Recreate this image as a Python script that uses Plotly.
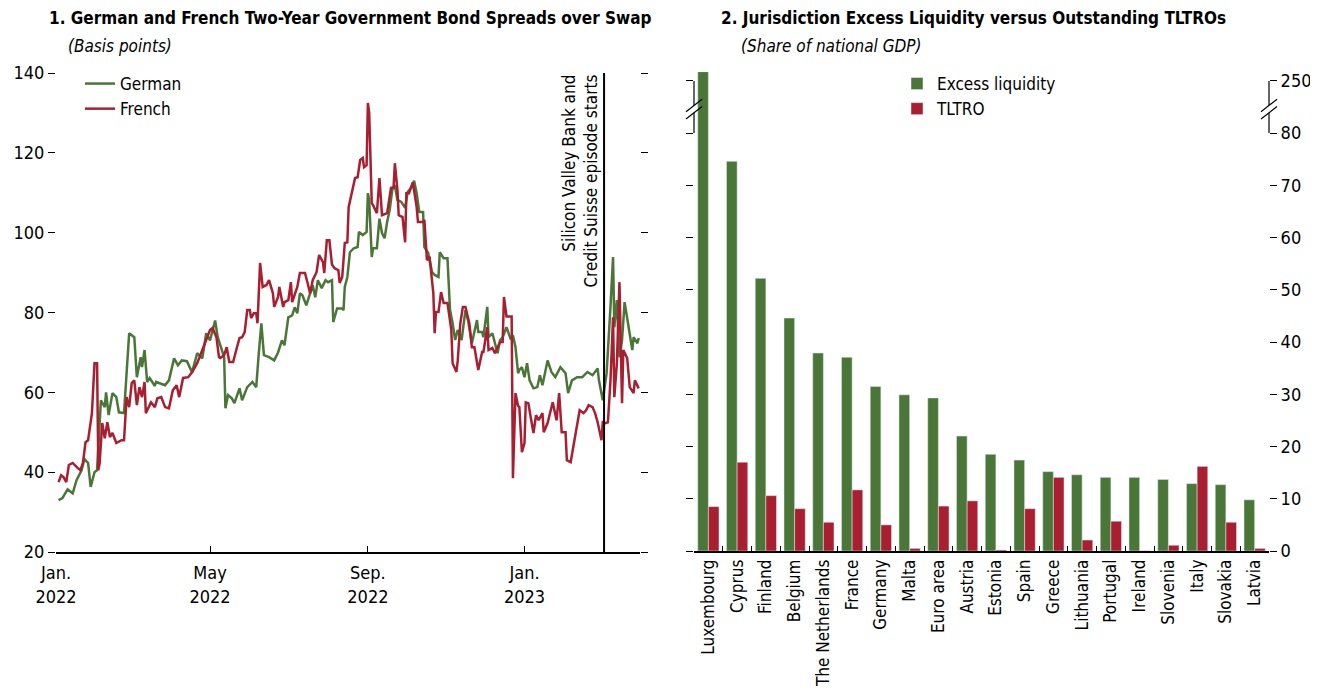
import plotly.graph_objects as go

# ---------------- Panel 1 data ----------------
de_dates = ["2022-01-03","2022-01-06","2022-01-10","2022-01-14","2022-01-17","2022-01-21","2022-01-23","2022-01-26","2022-01-28","2022-01-31",
"2022-02-02","2022-02-05","2022-02-08","2022-02-09","2022-02-11","2022-02-14","2022-02-17","2022-02-19","2022-02-23","2022-02-25","2022-02-27",
"2022-03-03","2022-03-05","2022-03-08","2022-03-09","2022-03-11","2022-03-13","2022-03-15","2022-03-19","2022-03-20","2022-03-27","2022-03-30",
"2022-04-03","2022-04-06","2022-04-09","2022-04-13","2022-04-17","2022-04-21","2022-04-25","2022-04-28",
"2022-05-01","2022-05-05","2022-05-07","2022-05-12","2022-05-13","2022-05-15","2022-05-18","2022-05-20","2022-05-24","2022-05-26","2022-05-30",
"2022-06-03","2022-06-06","2022-06-08","2022-06-10","2022-06-12","2022-06-16","2022-06-20","2022-06-23","2022-06-26","2022-06-28",
"2022-07-01","2022-07-04","2022-07-06","2022-07-08","2022-07-10","2022-07-12","2022-07-15","2022-07-18","2022-07-20","2022-07-22","2022-07-24","2022-07-27","2022-07-30",
"2022-08-01","2022-08-04","2022-08-05","2022-08-08","2022-08-12","2022-08-13","2022-08-14","2022-08-16","2022-08-18","2022-08-21","2022-08-24","2022-08-25","2022-08-28","2022-08-31",
"2022-09-01","2022-09-02","2022-09-04","2022-09-05","2022-09-08","2022-09-10","2022-09-12","2022-09-14","2022-09-16","2022-09-18","2022-09-20","2022-09-22","2022-09-24","2022-09-27","2022-09-30",
"2022-10-02","2022-10-05","2022-10-07","2022-10-09","2022-10-11","2022-10-14","2022-10-15","2022-10-18","2022-10-21","2022-10-23","2022-10-26","2022-10-27","2022-10-30",
"2022-11-02","2022-11-04","2022-11-06","2022-11-08","2022-11-10","2022-11-13","2022-11-16","2022-11-18","2022-11-21","2022-11-25","2022-11-26","2022-11-29","2022-11-30",
"2022-12-03","2022-12-04","2022-12-07","2022-12-11","2022-12-13","2022-12-15","2022-12-18","2022-12-21","2022-12-23","2022-12-25","2022-12-26","2022-12-27","2022-12-28","2022-12-30",
"2023-01-01","2023-01-03","2023-01-05","2023-01-08","2023-01-11","2023-01-13","2023-01-15","2023-01-19","2023-01-22","2023-01-25","2023-01-29",
"2023-02-02","2023-02-04","2023-02-07","2023-02-11","2023-02-15","2023-02-19","2023-02-23","2023-02-27","2023-02-28",
"2023-03-03","2023-03-05","2023-03-06","2023-03-09","2023-03-11","2023-03-12","2023-03-14","2023-03-16","2023-03-18","2023-03-20","2023-03-23","2023-03-26","2023-03-27","2023-03-30","2023-03-31"]
german = [33.0,33.5,35.7,34.7,38.0,40.5,43.3,42.3,36.3,40.0,
40.5,58.0,56.3,60.0,54.3,59.8,58.8,55.0,54.8,66.0,74.8,
73.8,63.8,68.8,66.3,70.6,62.6,63.6,61.6,62.6,61.8,63.0,
68.5,66.8,68.0,67.8,65.0,69.8,68.5,74.8,
73.0,78.0,73.8,68.8,56.0,59.3,58.5,57.3,61.0,58.0,61.3,
62.6,61.3,69.8,77.3,69.3,68.8,68.0,70.0,73.0,71.8,
78.8,79.3,81.3,79.8,84.8,84.3,81.8,84.8,86.8,83.8,88.1,86.1,88.1,
87.6,88.1,77.6,81.0,81.0,80.6,86.4,88.9,95.1,96.1,96.4,100.2,99.4,100.2,
109.9,108.2,93.9,96.1,96.1,103.5,99.9,98.6,102.7,105.7,110.7,111.9,108.2,107.7,106.2,
110.2,111.4,113.0,109.9,105.2,105.2,96.4,94.9,90.1,89.4,88.9,95.1,93.6,
93.6,80.6,77.3,73.1,75.6,73.1,80.6,78.1,72.3,78.1,75.1,75.1,73.8,
81.4,73.8,74.8,69.8,73.1,73.8,76.3,73.6,74.3,71.3,67.3,64.8,65.6,66.3,
63.8,67.3,63.0,61.0,61.3,64.3,61.8,68.0,65.1,63.8,66.3,
64.8,59.8,63.0,63.8,63.8,65.1,64.3,66.0,63.0,
58.0,62.3,64.8,81.4,93.9,76.3,83.1,68.8,73.1,82.6,76.3,70.6,73.8,72.3,73.6]

fr_dates = ["2022-01-03","2022-01-05","2022-01-07","2022-01-09","2022-01-11","2022-01-14","2022-01-18","2022-01-20","2022-01-22","2022-01-24","2022-01-26","2022-01-28","2022-01-29","2022-01-31",
"2022-02-02","2022-02-03","2022-02-04","2022-02-06","2022-02-08","2022-02-10","2022-02-12","2022-02-14","2022-02-17","2022-02-21","2022-02-23","2022-02-25","2022-02-27",
"2022-03-01","2022-03-03","2022-03-05","2022-03-07","2022-03-09","2022-03-11","2022-03-12","2022-03-16","2022-03-19","2022-03-21","2022-03-24","2022-03-27","2022-03-30",
"2022-04-02","2022-04-05","2022-04-07","2022-04-10","2022-04-14","2022-04-17","2022-04-21","2022-04-25","2022-04-28",
"2022-05-01","2022-05-03","2022-05-06","2022-05-08","2022-05-09","2022-05-12","2022-05-14","2022-05-16","2022-05-19","2022-05-22","2022-05-24","2022-05-26","2022-05-28","2022-05-30",
"2022-06-01","2022-06-02","2022-06-04","2022-06-06","2022-06-07","2022-06-09","2022-06-11","2022-06-14","2022-06-16","2022-06-19","2022-06-20","2022-06-23","2022-06-24","2022-06-27","2022-06-28",
"2022-07-01","2022-07-03","2022-07-04","2022-07-08","2022-07-10","2022-07-14","2022-07-16","2022-07-18","2022-07-20","2022-07-23","2022-07-25","2022-07-28","2022-07-29","2022-07-31",
"2022-08-02","2022-08-04","2022-08-06","2022-08-09","2022-08-10","2022-08-12","2022-08-14","2022-08-16","2022-08-17","2022-08-20","2022-08-22","2022-08-24","2022-08-26","2022-08-28","2022-08-29","2022-08-31",
"2022-09-01","2022-09-02","2022-09-04","2022-09-05","2022-09-08","2022-09-10","2022-09-12","2022-09-16","2022-09-19","2022-09-21","2022-09-22","2022-09-24","2022-09-25","2022-09-28","2022-09-30",
"2022-10-01","2022-10-03","2022-10-06","2022-10-09","2022-10-10","2022-10-14","2022-10-15","2022-10-17","2022-10-19","2022-10-22","2022-10-23","2022-10-24","2022-10-26","2022-10-28","2022-10-30",
"2022-11-02","2022-11-05","2022-11-06","2022-11-09","2022-11-10","2022-11-12","2022-11-14","2022-11-16","2022-11-19","2022-11-21","2022-11-23","2022-11-26","2022-11-29","2022-11-30",
"2022-12-03","2022-12-04","2022-12-07","2022-12-09","2022-12-11","2022-12-13","2022-12-15","2022-12-16","2022-12-18","2022-12-22","2022-12-23","2022-12-25","2022-12-27","2022-12-28","2022-12-30",
"2023-01-01","2023-01-02","2023-01-04","2023-01-06","2023-01-08","2023-01-10","2023-01-12","2023-01-15","2023-01-16","2023-01-19","2023-01-21","2023-01-23","2023-01-26","2023-01-28","2023-01-30",
"2023-02-02","2023-02-03","2023-02-06","2023-02-08","2023-02-11","2023-02-13","2023-02-16","2023-02-18","2023-02-20","2023-02-23","2023-02-25","2023-02-27",
"2023-03-02","2023-03-03","2023-03-05","2023-03-07","2023-03-09","2023-03-11","2023-03-12","2023-03-14","2023-03-16","2023-03-18","2023-03-19","2023-03-22","2023-03-24","2023-03-27","2023-03-28","2023-03-31"]
french = [37.5,39.2,38.7,37.5,41.8,42.3,41.0,40.5,42.3,47.5,48.0,53.0,54.8,67.3,
67.3,40.5,42.3,52.3,48.5,52.5,48.8,49.8,47.3,48.0,48.0,58.8,56.3,
62.3,63.0,56.8,61.3,58.8,62.6,54.8,57.5,56.3,58.5,58.8,56.3,56.0,
60.5,61.8,58.8,63.6,63.8,65.0,67.3,70.6,73.1,
75.6,76.1,73.8,68.8,68.6,69.3,71.3,67.6,67.6,71.3,73.6,73.8,75.1,80.6,
80.6,78.6,79.8,79.8,77.3,92.4,86.4,86.9,88.1,84.8,81.4,83.9,86.4,81.4,82.6,
83.1,87.6,82.6,86.4,89.9,89.9,87.4,84.8,88.1,90.1,94.4,92.6,89.9,98.1,
98.1,92.0,91.1,90.6,87.4,88.9,97.4,97.6,106.4,110.7,113.7,113.9,118.2,118.7,116.4,116.9,
132.5,130.0,107.4,106.9,104.9,113.7,104.4,104.9,111.2,111.3,117.4,110.7,104.4,103.9,97.6,
109.9,109.9,112.6,106.4,102.7,102.7,103.2,93.1,94.0,84.8,74.8,80.1,80.1,85.1,82.4,
82.4,75.6,67.3,65.1,68.0,77.3,81.4,81.4,77.3,71.3,71.3,65.6,70.1,70.1,
76.3,70.6,71.1,69.8,71.1,72.6,72.6,83.9,79.0,79.0,38.5,59.8,56.6,56.3,45.0,
47.3,57.5,57.3,53.5,49.8,54.3,53.0,54.8,50.0,52.3,54.8,57.5,53.0,59.8,50.0,
50.0,43.0,42.5,46.3,51.3,55.5,54.8,55.5,56.8,56.3,54.8,52.5,
48.0,52.5,52.3,52.5,63.0,78.8,58.8,67.3,87.6,57.3,70.6,68.6,61.3,59.8,63.0,61.0]

event_date = "2023-03-04"
event_label = "Silicon Valley Bank and<br>Credit Suisse episode starts"
x1_tickvals = ["2022-01-01", "2022-05-01", "2022-09-01", "2023-01-01"]
x1_ticktext = ["Jan.<br>2022", "May<br>2022", "Sep.<br>2022", "Jan.<br>2023"]
y1_ticks = [20, 40, 60, 80, 100, 120, 140]

# ---------------- Panel 2 data ----------------
countries = ["Luxembourg", "Cyprus", "Finland", "Belgium", "The Netherlands", "France", "Germany",
             "Malta", "Euro area", "Austria", "Estonia", "Spain", "Greece", "Lithuania", "Portugal",
             "Ireland", "Slovenia", "Italy", "Slovakia", "Latvia"]
excess_liquidity = [280, 74.6, 52.2, 44.6, 37.9, 37.1, 31.5, 29.9, 29.3, 22.0, 18.5, 17.4, 15.2,
                    14.6, 14.1, 14.1, 13.7, 12.9, 12.7, 9.8]
tltro = [8.5, 17.0, 10.6, 8.1, 5.5, 11.7, 5.0, 0.5, 8.6, 9.6, 0.2, 8.1, 14.1, 2.1, 5.7, 0.05,
         1.1, 16.2, 5.5, 0.5]
y2_tickvals = [0, 10, 20, 30, 40, 50, 60, 70, 80, 90]
y2_ticktext = ["0", "10", "20", "30", "40", "50", "60", "70", "80", "250"]

BREAK_LO, BREAK_HI = 80, 250


def broken(v):
    """Map value onto the broken axis: 80-250 is compressed into 80-90."""
    return v if v <= BREAK_LO else BREAK_LO + (v - BREAK_LO) * 10 / (BREAK_HI - BREAK_LO)


GREEN = "#4A7638"
RED = "#A91E30"
FONT = "Liberation Sans Narrow, Arial Narrow, DejaVu Sans Condensed, sans-serif"
# page body has an 8px margin: figure is sized to fit the window
OFF = 8
W, H = 1318 - OFF, 690 - OFF

fig = go.Figure()
fig.add_trace(go.Scatter(x=de_dates, y=german, mode="lines", name="German",
                         line=dict(color=GREEN, width=2.5), xaxis="x", yaxis="y", legend="legend"))
fig.add_trace(go.Scatter(x=fr_dates, y=french, mode="lines", name="French",
                         line=dict(color=RED, width=2.5), xaxis="x", yaxis="y", legend="legend"))

fig.add_trace(go.Bar(x=countries, y=[broken(v) for v in excess_liquidity], name="Excess liquidity",
                     marker_color=GREEN, customdata=excess_liquidity,
                     hovertemplate="%{x}: %{customdata}<extra></extra>",
                     xaxis="x2", yaxis="y2", legend="legend2"))
fig.add_trace(go.Bar(x=countries, y=tltro, name="TLTRO", marker_color=RED,
                     xaxis="x2", yaxis="y2", legend="legend2"))

px = lambda p: (p - OFF) / W
py = lambda p: 1 - (p - OFF) / H

x1_dom = [px(56), px(640)]
y1_dom = [py(552), py(73)]
x2_dom = [px(694), px(1269)]
y2_dom = [py(551), py(72)]

tickfont = dict(family=FONT, size=18, color="black")

fig.update_layout(
    width=W, height=H, margin=dict(l=0, r=0, t=0, b=0, autoexpand=False),
    paper_bgcolor="white", plot_bgcolor="white",
    font=dict(family=FONT, size=18, color="black"),
    barmode="group", bargap=0.26, bargroupgap=0,
    xaxis=dict(domain=x1_dom, type="date", range=["2022-01-01", "2023-04-01"],
               tickvals=x1_tickvals, ticktext=x1_ticktext, ticks="inside", ticklen=6,
               tickcolor="black", showline=True, linecolor="black", linewidth=1.5,
               showgrid=False, zeroline=False, tickfont=tickfont, anchor="y", automargin=False,
               ticklabelstandoff=4),
    yaxis=dict(domain=y1_dom, range=[20, 140], tickvals=y1_ticks, ticks="outside", ticklen=7,
               tickcolor="black", mirror="ticks", showline=False, showgrid=False,
               zeroline=False, tickfont=tickfont, anchor="x", automargin=False),
    xaxis2=dict(domain=x2_dom, type="category", tickangle=-90, ticks="inside", ticklen=5,
                tickson="boundaries", tickcolor="black", showline=True, linecolor="black",
                linewidth=1.5, showgrid=False, zeroline=False,
                tickfont=dict(family=FONT, size=17, color="black"), anchor="y2", automargin=False),
    yaxis2=dict(domain=y2_dom, range=[0, 91.7], side="right", tickvals=y2_tickvals,
                ticktext=y2_ticktext, ticks="outside", ticklen=7, tickcolor="black",
                mirror="ticks", showline=False, showgrid=False, zeroline=False,
                tickfont=tickfont, anchor="x2", automargin=False),
    legend=dict(x=px(80), y=py(66), xanchor="left", yanchor="top", bgcolor="rgba(0,0,0,0)",
                font=dict(family=FONT, size=17), tracegroupgap=0, itemwidth=30),
    legend2=dict(x=px(897), y=py(66), xanchor="left", yanchor="top", bgcolor="rgba(0,0,0,0)",
                 font=dict(family=FONT, size=17), tracegroupgap=0, itemwidth=30),
)

# event line
fig.add_shape(type="line", xref="x", yref="y domain", x0=event_date, x1=event_date, y0=0, y1=1,
              line=dict(color="black", width=2))
fig.add_annotation(x=event_date, xref="x", y=1, yref="y domain", text=event_label,
                   textangle=-90, xanchor="right", yanchor="top", align="right", showarrow=False,
                   xshift=-2, font=dict(family=FONT, size=17))

# titles
fig.add_annotation(x=px(47), y=py(18), xref="paper", yref="paper", xanchor="left", yanchor="middle",
                   text="<b>1. German and French Two-Year Government Bond Spreads over Swap</b>",
                   showarrow=False, font=dict(family=FONT, size=17))
fig.add_annotation(x=px(66), y=py(46), xref="paper", yref="paper", xanchor="left", yanchor="middle",
                   text="<i>(Basis points)</i>", showarrow=False, font=dict(family=FONT, size=17))
fig.add_annotation(x=px(719), y=py(18), xref="paper", yref="paper", xanchor="left", yanchor="middle",
                   text="<b>2. Jurisdiction Excess Liquidity versus Outstanding TLTROs</b>",
                   showarrow=False, font=dict(family=FONT, size=17))
fig.add_annotation(x=px(739), y=py(46), xref="paper", yref="paper", xanchor="left", yanchor="middle",
                   text="<i>(Share of national GDP)</i>", showarrow=False, font=dict(family=FONT, size=17))

# axis-break brackets (vertical connectors between the 80 and 250 ticks, interrupted by //)
gap_lo, gap_hi = 83.9, 85.3
for xe in (x2_dom[0], x2_dom[1]):
    fig.add_shape(type="line", xref="paper", yref="y2", x0=xe, x1=xe, y0=80, y1=gap_lo,
                  line=dict(color="black", width=1.2))
    fig.add_shape(type="line", xref="paper", yref="y2", x0=xe, x1=xe, y0=gap_hi, y1=90,
                  line=dict(color="black", width=1.2))
    for yb in (gap_lo, gap_hi):
        fig.add_shape(type="line", xref="paper", yref="y2", x0=xe - 8 / W, x1=xe + 8 / W,
                      y0=yb - 1.2, y1=yb + 1.2, line=dict(color="black", width=1.2))

fig.write_html("out.html")
